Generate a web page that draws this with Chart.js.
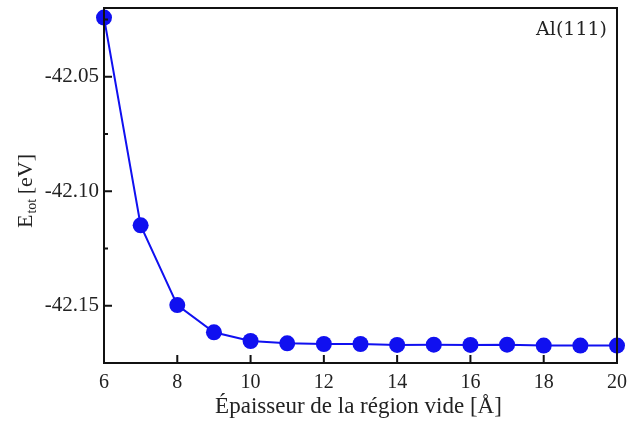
<!DOCTYPE html>
<html>
<head>
<meta charset="utf-8">
<script src="https://cdn.jsdelivr.net/npm/chart.js@4"></script>
<style>
  html, body { margin: 0; padding: 0; background: #fff; }
  #wrap { width: 628px; height: 422px; }
</style>
</head>
<body>
<div id="wrap"><canvas id="chartCtx" width="628" height="422"></canvas></div>
<script>
// vacuum thickness (Å) and total energy (eV)
const thickness = [6, 7, 8, 9, 10, 11, 12, 13, 14, 15, 16, 17, 18, 19, 20];
const energy = [-42.0242, -42.1149, -42.1497, -42.1616, -42.1654, -42.1664, -42.1667, -42.1667,
                -42.1671, -42.1670, -42.1671, -42.1670, -42.1674, -42.1674, -42.1674];
const xTicks = [6, 8, 10, 12, 14, 16, 18, 20];
const yTicks = [-42.15, -42.10, -42.05];
const yMinorTicks = [-42.125, -42.075, -42.025];
const panelLabel = 'Al(111)';
const xTitle = 'Épaisseur de la région vide [Å]';

const serif = '"Liberation Serif", "Times New Roman", serif';

const framePlugin = {
    id: 'frame',
    afterDraw(chart) {
        const ctx = chart.ctx;
        const a = chart.chartArea;
        const xs = chart.scales.x, ys = chart.scales.y;
        ctx.save();
        ctx.strokeStyle = '#111';
        ctx.lineWidth = 2;
        ctx.strokeRect(a.left, a.top, a.right - a.left, a.bottom - a.top);

        // inward ticks
        ctx.beginPath();
        xTicks.forEach(v => {
            const px = xs.getPixelForValue(v);
            ctx.moveTo(px, a.bottom);
            ctx.lineTo(px, a.bottom - 8);
        });
        yTicks.forEach(v => {
            const py = ys.getPixelForValue(v);
            ctx.moveTo(a.left, py);
            ctx.lineTo(a.left + 8, py);
        });
        yMinorTicks.forEach(v => {
            const py = ys.getPixelForValue(v);
            ctx.moveTo(a.left, py);
            ctx.lineTo(a.left + 4, py);
        });
        ctx.stroke();

        ctx.fillStyle = '#222';
        // x title
        ctx.font = '23px ' + serif;
        ctx.textAlign = 'center';
        ctx.textBaseline = 'alphabetic';
        ctx.fillText(xTitle, (a.left + a.right) / 2 - 2, 413);

        // panel label
        ctx.font = '19px "DejaVu Serif", serif';
        ctx.textAlign = 'right';
        ctx.fillText(panelLabel, a.right - 10, 35);

        // y title with subscript
        ctx.translate(32, 191);
        ctx.rotate(-Math.PI / 2);
        ctx.textAlign = 'left';
        ctx.font = '22px ' + serif;
        const wE = ctx.measureText('E').width;
        ctx.font = '14px ' + serif;
        const wSub = ctx.measureText('tot').width;
        ctx.font = '22px ' + serif;
        const wRest = ctx.measureText(' [eV]').width;
        let x0 = -(wE + wSub + wRest) / 2;
        ctx.fillText('E', x0, 0);
        ctx.font = '14px ' + serif;
        ctx.fillText('tot', x0 + wE + 1, 4);
        ctx.font = '22px ' + serif;
        ctx.fillText(' [eV]', x0 + wE + wSub, 0);
        ctx.restore();
    }
};

new Chart(document.getElementById('chartCtx'), {
    type: 'line',
    data: {
        datasets: [{
            data: thickness.map((t, i) => ({ x: t, y: energy[i] })),
            borderColor: '#1010f0',
            backgroundColor: '#1010f0',
            borderWidth: 2,
            pointRadius: 8,
            pointBorderWidth: 0,
            tension: 0,
            clip: false
        }]
    },
    options: {
        responsive: false,
        animation: false,
        layout: { padding: { top: 6, right: 11, left: 0, bottom: 0 } },
        plugins: { legend: { display: false }, tooltip: { enabled: false } },
        scales: {
            x: {
                type: 'linear',
                min: 6,
                max: 20,
                afterBuildTicks: s => { s.ticks = xTicks.map(v => ({ value: v })); },
                afterFit: s => { s.height = 59; s.paddingLeft = 0; s.paddingRight = 0; },
                grid: { display: false, drawTicks: false },
                border: { display: false },
                ticks: {
                    padding: 8,
                    color: '#222',
                    font: { family: serif, size: 20 },
                    maxRotation: 0,
                    callback: v => String(v)
                }
            },
            y: {
                type: 'linear',
                min: -42.175,
                max: -42.02,
                afterBuildTicks: s => { s.ticks = yTicks.map(v => ({ value: v })); },
                afterFit: s => { s.width = 104; s.paddingTop = 0; s.paddingBottom = 0; },
                grid: { display: false, drawTicks: false },
                border: { display: false },
                ticks: {
                    padding: 5,
                    color: '#222',
                    font: { family: serif, size: 21 },
                    callback: v => v.toFixed(2)
                }
            }
        }
    },
    plugins: [framePlugin]
});
</script>
</body>
</html>
